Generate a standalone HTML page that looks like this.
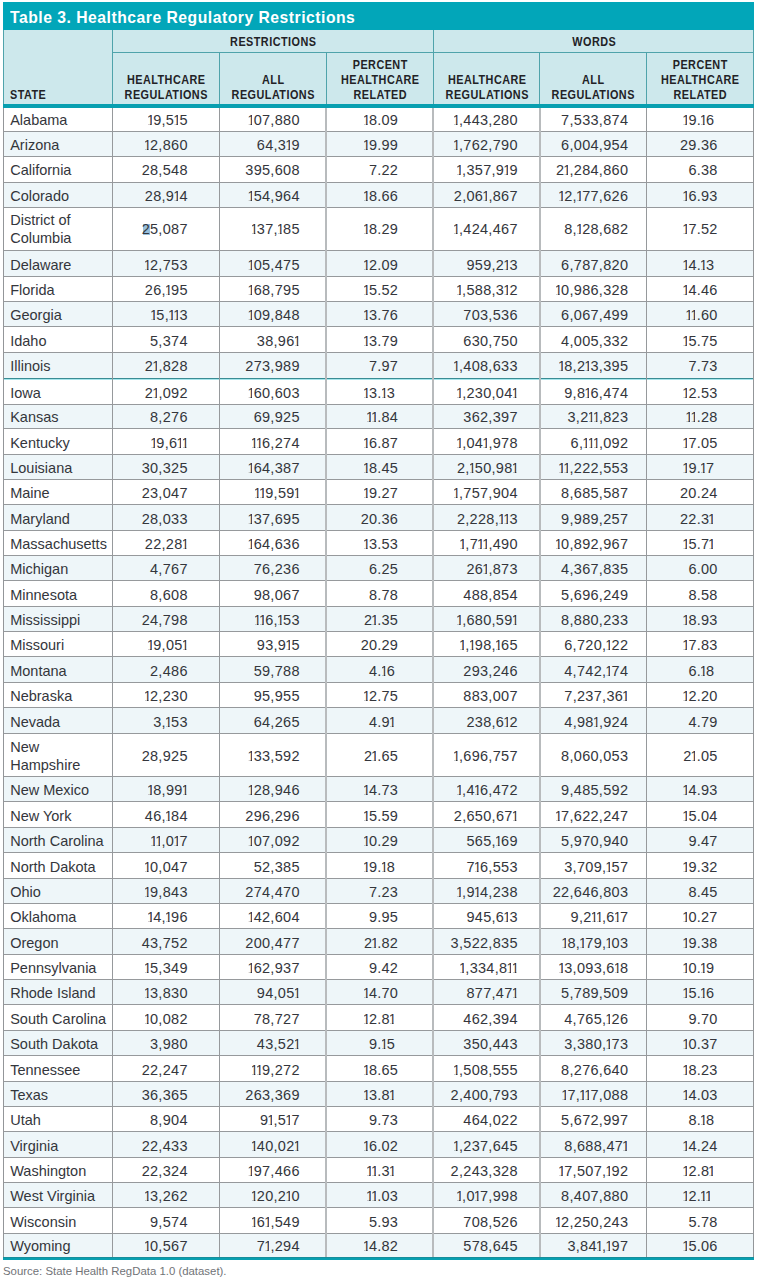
<!DOCTYPE html><html><head><meta charset="utf-8"><style>
*{margin:0;padding:0;box-sizing:border-box}
body{width:765px;height:1284px;position:relative;overflow:hidden;background:#fff;font-family:"Liberation Sans",sans-serif;color:#34363c}
div{position:absolute}
.h{height:1px;background:#96999c;left:3px;width:751px}
.v{width:1px;background:#96999c}
.t{font-size:14.5px;line-height:20px;height:20px;white-space:nowrap}
.n{text-align:right}
i{font-style:normal;display:inline-block;vertical-align:top;overflow:hidden;width:4.0px;text-indent:-1.3px;margin-right:1.2px;clip-path:polygon(0 0,4px 0,4px 14.2px,3.65px 14.2px,3.65px 20px,2.2px 20px,2.2px 14.2px,0 14.2px)}
.hd{font-weight:bold;font-size:12.6px;line-height:15px;white-space:nowrap;text-align:center;color:#222226;transform:scaleX(0.86);transform-origin:center;letter-spacing:0.55px;text-indent:0.55px}
</style></head><body>

<div style="left:3px;top:2px;width:751px;height:28px;background:#02a6b9"></div>
<div style="left:9.8px;top:8px;font-weight:bold;font-size:16.7px;line-height:20px;color:#fff;white-space:nowrap;transform:scaleX(0.94);transform-origin:left;letter-spacing:0.55px">Table 3. Healthcare Regulatory Restrictions</div>
<div style="left:3px;top:30px;width:751px;height:74px;background:#cde8ec"></div>
<div style="left:3px;top:30px;width:1px;height:74px;background:#4fa3ab"></div>
<div style="left:753px;top:30px;width:1px;height:74px;background:#4fa3ab"></div>
<div style="left:112px;top:30px;width:1px;height:74px;background:#4fa3ab"></div>
<div style="left:433px;top:30px;width:1px;height:74px;background:#4fa3ab"></div>
<div style="left:219px;top:52px;width:1px;height:52px;background:#4fa3ab"></div>
<div style="left:326px;top:52px;width:1px;height:52px;background:#4fa3ab"></div>
<div style="left:539px;top:52px;width:1px;height:52px;background:#4fa3ab"></div>
<div style="left:646px;top:52px;width:1px;height:52px;background:#4fa3ab"></div>
<div style="left:112px;top:52px;width:641px;height:1px;background:#4fa3ab"></div>
<div style="left:3px;top:104px;width:751px;height:4px;background:#089fb0"></div>
<div style="left:10.2px;top:87.6px;font-weight:bold;font-size:12.6px;line-height:15px;color:#222226;transform:scaleX(0.86);transform-origin:left;letter-spacing:0.55px">STATE</div>
<div class="hd" style="left:172.5px;width:200px;top:35.2px">RESTRICTIONS</div>
<div class="hd" style="left:493.5px;width:200px;top:35.2px">WORDS</div>
<div class="hd" style="left:66.0px;width:200px;top:72.8px">HEALTHCARE</div>
<div class="hd" style="left:66.0px;width:200px;top:87.6px">REGULATIONS</div>
<div class="hd" style="left:173.0px;width:200px;top:72.8px">ALL</div>
<div class="hd" style="left:173.0px;width:200px;top:87.6px">REGULATIONS</div>
<div class="hd" style="left:280.0px;width:200px;top:58px">PERCENT</div>
<div class="hd" style="left:280.0px;width:200px;top:72.8px">HEALTHCARE</div>
<div class="hd" style="left:280.0px;width:200px;top:87.6px">RELATED</div>
<div class="hd" style="left:386.5px;width:200px;top:72.8px">HEALTHCARE</div>
<div class="hd" style="left:386.5px;width:200px;top:87.6px">REGULATIONS</div>
<div class="hd" style="left:493.0px;width:200px;top:72.8px">ALL</div>
<div class="hd" style="left:493.0px;width:200px;top:87.6px">REGULATIONS</div>
<div class="hd" style="left:600.0px;width:200px;top:58px">PERCENT</div>
<div class="hd" style="left:600.0px;width:200px;top:72.8px">HEALTHCARE</div>
<div class="hd" style="left:600.0px;width:200px;top:87.6px">RELATED</div>
<div class="h" style="top:131px;background:#96999c"></div>
<div class="t" style="left:10.2px;top:110.0px">Alabama</div>
<div class="t n" style="left:67.8px;width:120px;top:110.0px;letter-spacing:0.3px"><i>1</i>9,5<i>1</i>5</div>
<div class="t n" style="left:179.8px;width:120px;top:110.0px;letter-spacing:0.3px"><i>1</i>07,880</div>
<div class="t n" style="left:321.58px;width:60px;top:110.0px;letter-spacing:0.2px"><i>1</i>8.</div>
<div class="t" style="left:381.58px;top:110.0px;letter-spacing:0.2px">09</div>
<div class="t n" style="left:397.8px;width:120px;top:110.0px;letter-spacing:0.3px"><i>1</i>,443,280</div>
<div class="t n" style="left:508.3px;width:120px;top:110.0px;letter-spacing:0.3px">7,533,874</div>
<div class="t n" style="left:640.88px;width:60px;top:110.0px;letter-spacing:0.2px"><i>1</i>9.</div>
<div class="t" style="left:700.88px;top:110.0px;letter-spacing:0.2px"><i>1</i>6</div>
<div style="left:4px;top:132px;width:749px;height:24px;background:#eef6f9"></div>
<div class="h" style="top:156px;background:#96999c"></div>
<div class="t" style="left:10.2px;top:135.0px">Arizona</div>
<div class="t n" style="left:67.8px;width:120px;top:135.0px;letter-spacing:0.3px"><i>1</i>2,860</div>
<div class="t n" style="left:179.8px;width:120px;top:135.0px;letter-spacing:0.3px">64,3<i>1</i>9</div>
<div class="t n" style="left:321.58px;width:60px;top:135.0px;letter-spacing:0.2px"><i>1</i>9.</div>
<div class="t" style="left:381.58px;top:135.0px;letter-spacing:0.2px">99</div>
<div class="t n" style="left:397.8px;width:120px;top:135.0px;letter-spacing:0.3px"><i>1</i>,762,790</div>
<div class="t n" style="left:508.3px;width:120px;top:135.0px;letter-spacing:0.3px">6,004,954</div>
<div class="t n" style="left:640.88px;width:60px;top:135.0px;letter-spacing:0.2px">29.</div>
<div class="t" style="left:700.88px;top:135.0px;letter-spacing:0.2px">36</div>
<div class="h" style="top:182px;background:#96999c"></div>
<div class="t" style="left:10.2px;top:160.0px">California</div>
<div class="t n" style="left:67.8px;width:120px;top:160.0px;letter-spacing:0.3px">28,548</div>
<div class="t n" style="left:179.8px;width:120px;top:160.0px;letter-spacing:0.3px">395,608</div>
<div class="t n" style="left:321.58px;width:60px;top:160.0px;letter-spacing:0.2px">7.</div>
<div class="t" style="left:381.58px;top:160.0px;letter-spacing:0.2px">22</div>
<div class="t n" style="left:397.8px;width:120px;top:160.0px;letter-spacing:0.3px"><i>1</i>,357,9<i>1</i>9</div>
<div class="t n" style="left:508.3px;width:120px;top:160.0px;letter-spacing:0.3px">2<i>1</i>,284,860</div>
<div class="t n" style="left:640.88px;width:60px;top:160.0px;letter-spacing:0.2px">6.</div>
<div class="t" style="left:700.88px;top:160.0px;letter-spacing:0.2px">38</div>
<div style="left:4px;top:183px;width:749px;height:24px;background:#eef6f9"></div>
<div class="h" style="top:207px;background:#96999c"></div>
<div class="t" style="left:10.2px;top:186.0px">Colorado</div>
<div class="t n" style="left:67.8px;width:120px;top:186.0px;letter-spacing:0.3px">28,9<i>1</i>4</div>
<div class="t n" style="left:179.8px;width:120px;top:186.0px;letter-spacing:0.3px"><i>1</i>54,964</div>
<div class="t n" style="left:321.58px;width:60px;top:186.0px;letter-spacing:0.2px"><i>1</i>8.</div>
<div class="t" style="left:381.58px;top:186.0px;letter-spacing:0.2px">66</div>
<div class="t n" style="left:397.8px;width:120px;top:186.0px;letter-spacing:0.3px">2,06<i>1</i>,867</div>
<div class="t n" style="left:508.3px;width:120px;top:186.0px;letter-spacing:0.3px"><i>1</i>2,<i>1</i>77,626</div>
<div class="t n" style="left:640.88px;width:60px;top:186.0px;letter-spacing:0.2px"><i>1</i>6.</div>
<div class="t" style="left:700.88px;top:186.0px;letter-spacing:0.2px">93</div>
<div class="h" style="top:250px;background:#96999c"></div>
<div class="t" style="left:10.2px;top:210.2px">District of</div>
<div class="t" style="left:10.2px;top:228.0px">Columbia</div>
<div style="left:143px;top:224px;width:7px;height:11px;background:#98bfda"></div>
<div class="t n" style="left:67.8px;width:120px;top:219.1px;letter-spacing:0.3px">25,087</div>
<div class="t n" style="left:179.8px;width:120px;top:219.1px;letter-spacing:0.3px"><i>1</i>37,<i>1</i>85</div>
<div class="t n" style="left:321.58px;width:60px;top:219.1px;letter-spacing:0.2px"><i>1</i>8.</div>
<div class="t" style="left:381.58px;top:219.1px;letter-spacing:0.2px">29</div>
<div class="t n" style="left:397.8px;width:120px;top:219.1px;letter-spacing:0.3px"><i>1</i>,424,467</div>
<div class="t n" style="left:508.3px;width:120px;top:219.1px;letter-spacing:0.3px">8,<i>1</i>28,682</div>
<div class="t n" style="left:640.88px;width:60px;top:219.1px;letter-spacing:0.2px"><i>1</i>7.</div>
<div class="t" style="left:700.88px;top:219.1px;letter-spacing:0.2px">52</div>
<div style="left:4px;top:251px;width:749px;height:25px;background:#eef6f9"></div>
<div class="h" style="top:276px;background:#96999c"></div>
<div class="t" style="left:10.2px;top:255.0px">Delaware</div>
<div class="t n" style="left:67.8px;width:120px;top:255.0px;letter-spacing:0.3px"><i>1</i>2,753</div>
<div class="t n" style="left:179.8px;width:120px;top:255.0px;letter-spacing:0.3px"><i>1</i>05,475</div>
<div class="t n" style="left:321.58px;width:60px;top:255.0px;letter-spacing:0.2px"><i>1</i>2.</div>
<div class="t" style="left:381.58px;top:255.0px;letter-spacing:0.2px">09</div>
<div class="t n" style="left:397.8px;width:120px;top:255.0px;letter-spacing:0.3px">959,2<i>1</i>3</div>
<div class="t n" style="left:508.3px;width:120px;top:255.0px;letter-spacing:0.3px">6,787,820</div>
<div class="t n" style="left:640.88px;width:60px;top:255.0px;letter-spacing:0.2px"><i>1</i>4.</div>
<div class="t" style="left:700.88px;top:255.0px;letter-spacing:0.2px"><i>1</i>3</div>
<div class="h" style="top:301px;background:#96999c"></div>
<div class="t" style="left:10.2px;top:280.0px">Florida</div>
<div class="t n" style="left:67.8px;width:120px;top:280.0px;letter-spacing:0.3px">26,<i>1</i>95</div>
<div class="t n" style="left:179.8px;width:120px;top:280.0px;letter-spacing:0.3px"><i>1</i>68,795</div>
<div class="t n" style="left:321.58px;width:60px;top:280.0px;letter-spacing:0.2px"><i>1</i>5.</div>
<div class="t" style="left:381.58px;top:280.0px;letter-spacing:0.2px">52</div>
<div class="t n" style="left:397.8px;width:120px;top:280.0px;letter-spacing:0.3px"><i>1</i>,588,3<i>1</i>2</div>
<div class="t n" style="left:508.3px;width:120px;top:280.0px;letter-spacing:0.3px"><i>1</i>0,986,328</div>
<div class="t n" style="left:640.88px;width:60px;top:280.0px;letter-spacing:0.2px"><i>1</i>4.</div>
<div class="t" style="left:700.88px;top:280.0px;letter-spacing:0.2px">46</div>
<div style="left:4px;top:302px;width:749px;height:24px;background:#eef6f9"></div>
<div class="h" style="top:326px;background:#96999c"></div>
<div class="t" style="left:10.2px;top:305.0px">Georgia</div>
<div class="t n" style="left:67.8px;width:120px;top:305.0px;letter-spacing:0.3px"><i>1</i>5,<i>1</i><i>1</i>3</div>
<div class="t n" style="left:179.8px;width:120px;top:305.0px;letter-spacing:0.3px"><i>1</i>09,848</div>
<div class="t n" style="left:321.58px;width:60px;top:305.0px;letter-spacing:0.2px"><i>1</i>3.</div>
<div class="t" style="left:381.58px;top:305.0px;letter-spacing:0.2px">76</div>
<div class="t n" style="left:397.8px;width:120px;top:305.0px;letter-spacing:0.3px">703,536</div>
<div class="t n" style="left:508.3px;width:120px;top:305.0px;letter-spacing:0.3px">6,067,499</div>
<div class="t n" style="left:640.88px;width:60px;top:305.0px;letter-spacing:0.2px"><i>1</i><i>1</i>.</div>
<div class="t" style="left:700.88px;top:305.0px;letter-spacing:0.2px">60</div>
<div class="h" style="top:352px;background:#96999c"></div>
<div class="t" style="left:10.2px;top:331.0px">Idaho</div>
<div class="t n" style="left:67.8px;width:120px;top:331.0px;letter-spacing:0.3px">5,374</div>
<div class="t n" style="left:179.8px;width:120px;top:331.0px;letter-spacing:0.3px">38,96<i>1</i></div>
<div class="t n" style="left:321.58px;width:60px;top:331.0px;letter-spacing:0.2px"><i>1</i>3.</div>
<div class="t" style="left:381.58px;top:331.0px;letter-spacing:0.2px">79</div>
<div class="t n" style="left:397.8px;width:120px;top:331.0px;letter-spacing:0.3px">630,750</div>
<div class="t n" style="left:508.3px;width:120px;top:331.0px;letter-spacing:0.3px">4,005,332</div>
<div class="t n" style="left:640.88px;width:60px;top:331.0px;letter-spacing:0.2px"><i>1</i>5.</div>
<div class="t" style="left:700.88px;top:331.0px;letter-spacing:0.2px">75</div>
<div style="left:4px;top:353px;width:749px;height:25px;background:#eef6f9"></div>
<div class="h" style="top:378px;background:#3a8c94"></div>
<div class="h" style="top:379px;background:#a6e6ec"></div>
<div class="t" style="left:10.2px;top:356.0px">Illinois</div>
<div class="t n" style="left:67.8px;width:120px;top:356.0px;letter-spacing:0.3px">2<i>1</i>,828</div>
<div class="t n" style="left:179.8px;width:120px;top:356.0px;letter-spacing:0.3px">273,989</div>
<div class="t n" style="left:321.58px;width:60px;top:356.0px;letter-spacing:0.2px">7.</div>
<div class="t" style="left:381.58px;top:356.0px;letter-spacing:0.2px">97</div>
<div class="t n" style="left:397.8px;width:120px;top:356.0px;letter-spacing:0.3px"><i>1</i>,408,633</div>
<div class="t n" style="left:508.3px;width:120px;top:356.0px;letter-spacing:0.3px"><i>1</i>8,2<i>1</i>3,395</div>
<div class="t n" style="left:640.88px;width:60px;top:356.0px;letter-spacing:0.2px">7.</div>
<div class="t" style="left:700.88px;top:356.0px;letter-spacing:0.2px">73</div>
<div class="h" style="top:404px;background:#96999c"></div>
<div class="t" style="left:10.2px;top:383.0px">Iowa</div>
<div class="t n" style="left:67.8px;width:120px;top:383.0px;letter-spacing:0.3px">2<i>1</i>,092</div>
<div class="t n" style="left:179.8px;width:120px;top:383.0px;letter-spacing:0.3px"><i>1</i>60,603</div>
<div class="t n" style="left:321.58px;width:60px;top:383.0px;letter-spacing:0.2px"><i>1</i>3.</div>
<div class="t" style="left:381.58px;top:383.0px;letter-spacing:0.2px"><i>1</i>3</div>
<div class="t n" style="left:397.8px;width:120px;top:383.0px;letter-spacing:0.3px"><i>1</i>,230,04<i>1</i></div>
<div class="t n" style="left:508.3px;width:120px;top:383.0px;letter-spacing:0.3px">9,8<i>1</i>6,474</div>
<div class="t n" style="left:640.88px;width:60px;top:383.0px;letter-spacing:0.2px"><i>1</i>2.</div>
<div class="t" style="left:700.88px;top:383.0px;letter-spacing:0.2px">53</div>
<div style="left:4px;top:405px;width:749px;height:23px;background:#eef6f9"></div>
<div class="h" style="top:428px;background:#96999c"></div>
<div class="t" style="left:10.2px;top:407.0px">Kansas</div>
<div class="t n" style="left:67.8px;width:120px;top:407.0px;letter-spacing:0.3px">8,276</div>
<div class="t n" style="left:179.8px;width:120px;top:407.0px;letter-spacing:0.3px">69,925</div>
<div class="t n" style="left:321.58px;width:60px;top:407.0px;letter-spacing:0.2px"><i>1</i><i>1</i>.</div>
<div class="t" style="left:381.58px;top:407.0px;letter-spacing:0.2px">84</div>
<div class="t n" style="left:397.8px;width:120px;top:407.0px;letter-spacing:0.3px">362,397</div>
<div class="t n" style="left:508.3px;width:120px;top:407.0px;letter-spacing:0.3px">3,2<i>1</i><i>1</i>,823</div>
<div class="t n" style="left:640.88px;width:60px;top:407.0px;letter-spacing:0.2px"><i>1</i><i>1</i>.</div>
<div class="t" style="left:700.88px;top:407.0px;letter-spacing:0.2px">28</div>
<div class="h" style="top:454px;background:#96999c"></div>
<div class="t" style="left:10.2px;top:433.0px">Kentucky</div>
<div class="t n" style="left:67.8px;width:120px;top:433.0px;letter-spacing:0.3px"><i>1</i>9,6<i>1</i><i>1</i></div>
<div class="t n" style="left:179.8px;width:120px;top:433.0px;letter-spacing:0.3px"><i>1</i><i>1</i>6,274</div>
<div class="t n" style="left:321.58px;width:60px;top:433.0px;letter-spacing:0.2px"><i>1</i>6.</div>
<div class="t" style="left:381.58px;top:433.0px;letter-spacing:0.2px">87</div>
<div class="t n" style="left:397.8px;width:120px;top:433.0px;letter-spacing:0.3px"><i>1</i>,04<i>1</i>,978</div>
<div class="t n" style="left:508.3px;width:120px;top:433.0px;letter-spacing:0.3px">6,<i>1</i><i>1</i><i>1</i>,092</div>
<div class="t n" style="left:640.88px;width:60px;top:433.0px;letter-spacing:0.2px"><i>1</i>7.</div>
<div class="t" style="left:700.88px;top:433.0px;letter-spacing:0.2px">05</div>
<div style="left:4px;top:455px;width:749px;height:24px;background:#eef6f9"></div>
<div class="h" style="top:479px;background:#96999c"></div>
<div class="t" style="left:10.2px;top:458.0px">Louisiana</div>
<div class="t n" style="left:67.8px;width:120px;top:458.0px;letter-spacing:0.3px">30,325</div>
<div class="t n" style="left:179.8px;width:120px;top:458.0px;letter-spacing:0.3px"><i>1</i>64,387</div>
<div class="t n" style="left:321.58px;width:60px;top:458.0px;letter-spacing:0.2px"><i>1</i>8.</div>
<div class="t" style="left:381.58px;top:458.0px;letter-spacing:0.2px">45</div>
<div class="t n" style="left:397.8px;width:120px;top:458.0px;letter-spacing:0.3px">2,<i>1</i>50,98<i>1</i></div>
<div class="t n" style="left:508.3px;width:120px;top:458.0px;letter-spacing:0.3px"><i>1</i><i>1</i>,222,553</div>
<div class="t n" style="left:640.88px;width:60px;top:458.0px;letter-spacing:0.2px"><i>1</i>9.</div>
<div class="t" style="left:700.88px;top:458.0px;letter-spacing:0.2px"><i>1</i>7</div>
<div class="h" style="top:504px;background:#96999c"></div>
<div class="t" style="left:10.2px;top:483.0px">Maine</div>
<div class="t n" style="left:67.8px;width:120px;top:483.0px;letter-spacing:0.3px">23,047</div>
<div class="t n" style="left:179.8px;width:120px;top:483.0px;letter-spacing:0.3px"><i>1</i><i>1</i>9,59<i>1</i></div>
<div class="t n" style="left:321.58px;width:60px;top:483.0px;letter-spacing:0.2px"><i>1</i>9.</div>
<div class="t" style="left:381.58px;top:483.0px;letter-spacing:0.2px">27</div>
<div class="t n" style="left:397.8px;width:120px;top:483.0px;letter-spacing:0.3px"><i>1</i>,757,904</div>
<div class="t n" style="left:508.3px;width:120px;top:483.0px;letter-spacing:0.3px">8,685,587</div>
<div class="t n" style="left:640.88px;width:60px;top:483.0px;letter-spacing:0.2px">20.</div>
<div class="t" style="left:700.88px;top:483.0px;letter-spacing:0.2px">24</div>
<div style="left:4px;top:505px;width:749px;height:25px;background:#eef6f9"></div>
<div class="h" style="top:530px;background:#96999c"></div>
<div class="t" style="left:10.2px;top:509.0px">Maryland</div>
<div class="t n" style="left:67.8px;width:120px;top:509.0px;letter-spacing:0.3px">28,033</div>
<div class="t n" style="left:179.8px;width:120px;top:509.0px;letter-spacing:0.3px"><i>1</i>37,695</div>
<div class="t n" style="left:321.58px;width:60px;top:509.0px;letter-spacing:0.2px">20.</div>
<div class="t" style="left:381.58px;top:509.0px;letter-spacing:0.2px">36</div>
<div class="t n" style="left:397.8px;width:120px;top:509.0px;letter-spacing:0.3px">2,228,<i>1</i><i>1</i>3</div>
<div class="t n" style="left:508.3px;width:120px;top:509.0px;letter-spacing:0.3px">9,989,257</div>
<div class="t n" style="left:640.88px;width:60px;top:509.0px;letter-spacing:0.2px">22.</div>
<div class="t" style="left:700.88px;top:509.0px;letter-spacing:0.2px">3<i>1</i></div>
<div class="h" style="top:555px;background:#96999c"></div>
<div class="t" style="left:10.2px;top:534.0px">Massachusetts</div>
<div class="t n" style="left:67.8px;width:120px;top:534.0px;letter-spacing:0.3px">22,28<i>1</i></div>
<div class="t n" style="left:179.8px;width:120px;top:534.0px;letter-spacing:0.3px"><i>1</i>64,636</div>
<div class="t n" style="left:321.58px;width:60px;top:534.0px;letter-spacing:0.2px"><i>1</i>3.</div>
<div class="t" style="left:381.58px;top:534.0px;letter-spacing:0.2px">53</div>
<div class="t n" style="left:397.8px;width:120px;top:534.0px;letter-spacing:0.3px"><i>1</i>,7<i>1</i><i>1</i>,490</div>
<div class="t n" style="left:508.3px;width:120px;top:534.0px;letter-spacing:0.3px"><i>1</i>0,892,967</div>
<div class="t n" style="left:640.88px;width:60px;top:534.0px;letter-spacing:0.2px"><i>1</i>5.</div>
<div class="t" style="left:700.88px;top:534.0px;letter-spacing:0.2px">7<i>1</i></div>
<div style="left:4px;top:556px;width:749px;height:24px;background:#eef6f9"></div>
<div class="h" style="top:580px;background:#96999c"></div>
<div class="t" style="left:10.2px;top:559.0px">Michigan</div>
<div class="t n" style="left:67.8px;width:120px;top:559.0px;letter-spacing:0.3px">4,767</div>
<div class="t n" style="left:179.8px;width:120px;top:559.0px;letter-spacing:0.3px">76,236</div>
<div class="t n" style="left:321.58px;width:60px;top:559.0px;letter-spacing:0.2px">6.</div>
<div class="t" style="left:381.58px;top:559.0px;letter-spacing:0.2px">25</div>
<div class="t n" style="left:397.8px;width:120px;top:559.0px;letter-spacing:0.3px">26<i>1</i>,873</div>
<div class="t n" style="left:508.3px;width:120px;top:559.0px;letter-spacing:0.3px">4,367,835</div>
<div class="t n" style="left:640.88px;width:60px;top:559.0px;letter-spacing:0.2px">6.</div>
<div class="t" style="left:700.88px;top:559.0px;letter-spacing:0.2px">00</div>
<div class="h" style="top:606px;background:#96999c"></div>
<div class="t" style="left:10.2px;top:585.0px">Minnesota</div>
<div class="t n" style="left:67.8px;width:120px;top:585.0px;letter-spacing:0.3px">8,608</div>
<div class="t n" style="left:179.8px;width:120px;top:585.0px;letter-spacing:0.3px">98,067</div>
<div class="t n" style="left:321.58px;width:60px;top:585.0px;letter-spacing:0.2px">8.</div>
<div class="t" style="left:381.58px;top:585.0px;letter-spacing:0.2px">78</div>
<div class="t n" style="left:397.8px;width:120px;top:585.0px;letter-spacing:0.3px">488,854</div>
<div class="t n" style="left:508.3px;width:120px;top:585.0px;letter-spacing:0.3px">5,696,249</div>
<div class="t n" style="left:640.88px;width:60px;top:585.0px;letter-spacing:0.2px">8.</div>
<div class="t" style="left:700.88px;top:585.0px;letter-spacing:0.2px">58</div>
<div style="left:4px;top:607px;width:749px;height:24px;background:#eef6f9"></div>
<div class="h" style="top:631px;background:#96999c"></div>
<div class="t" style="left:10.2px;top:610.0px">Mississippi</div>
<div class="t n" style="left:67.8px;width:120px;top:610.0px;letter-spacing:0.3px">24,798</div>
<div class="t n" style="left:179.8px;width:120px;top:610.0px;letter-spacing:0.3px"><i>1</i><i>1</i>6,<i>1</i>53</div>
<div class="t n" style="left:321.58px;width:60px;top:610.0px;letter-spacing:0.2px">2<i>1</i>.</div>
<div class="t" style="left:381.58px;top:610.0px;letter-spacing:0.2px">35</div>
<div class="t n" style="left:397.8px;width:120px;top:610.0px;letter-spacing:0.3px"><i>1</i>,680,59<i>1</i></div>
<div class="t n" style="left:508.3px;width:120px;top:610.0px;letter-spacing:0.3px">8,880,233</div>
<div class="t n" style="left:640.88px;width:60px;top:610.0px;letter-spacing:0.2px"><i>1</i>8.</div>
<div class="t" style="left:700.88px;top:610.0px;letter-spacing:0.2px">93</div>
<div class="h" style="top:656px;background:#96999c"></div>
<div class="t" style="left:10.2px;top:635.0px">Missouri</div>
<div class="t n" style="left:67.8px;width:120px;top:635.0px;letter-spacing:0.3px"><i>1</i>9,05<i>1</i></div>
<div class="t n" style="left:179.8px;width:120px;top:635.0px;letter-spacing:0.3px">93,9<i>1</i>5</div>
<div class="t n" style="left:321.58px;width:60px;top:635.0px;letter-spacing:0.2px">20.</div>
<div class="t" style="left:381.58px;top:635.0px;letter-spacing:0.2px">29</div>
<div class="t n" style="left:397.8px;width:120px;top:635.0px;letter-spacing:0.3px"><i>1</i>,<i>1</i>98,<i>1</i>65</div>
<div class="t n" style="left:508.3px;width:120px;top:635.0px;letter-spacing:0.3px">6,720,<i>1</i>22</div>
<div class="t n" style="left:640.88px;width:60px;top:635.0px;letter-spacing:0.2px"><i>1</i>7.</div>
<div class="t" style="left:700.88px;top:635.0px;letter-spacing:0.2px">83</div>
<div style="left:4px;top:657px;width:749px;height:25px;background:#eef6f9"></div>
<div class="h" style="top:682px;background:#96999c"></div>
<div class="t" style="left:10.2px;top:661.0px">Montana</div>
<div class="t n" style="left:67.8px;width:120px;top:661.0px;letter-spacing:0.3px">2,486</div>
<div class="t n" style="left:179.8px;width:120px;top:661.0px;letter-spacing:0.3px">59,788</div>
<div class="t n" style="left:321.58px;width:60px;top:661.0px;letter-spacing:0.2px">4.</div>
<div class="t" style="left:381.58px;top:661.0px;letter-spacing:0.2px"><i>1</i>6</div>
<div class="t n" style="left:397.8px;width:120px;top:661.0px;letter-spacing:0.3px">293,246</div>
<div class="t n" style="left:508.3px;width:120px;top:661.0px;letter-spacing:0.3px">4,742,<i>1</i>74</div>
<div class="t n" style="left:640.88px;width:60px;top:661.0px;letter-spacing:0.2px">6.</div>
<div class="t" style="left:700.88px;top:661.0px;letter-spacing:0.2px"><i>1</i>8</div>
<div class="h" style="top:707px;background:#96999c"></div>
<div class="t" style="left:10.2px;top:686.0px">Nebraska</div>
<div class="t n" style="left:67.8px;width:120px;top:686.0px;letter-spacing:0.3px"><i>1</i>2,230</div>
<div class="t n" style="left:179.8px;width:120px;top:686.0px;letter-spacing:0.3px">95,955</div>
<div class="t n" style="left:321.58px;width:60px;top:686.0px;letter-spacing:0.2px"><i>1</i>2.</div>
<div class="t" style="left:381.58px;top:686.0px;letter-spacing:0.2px">75</div>
<div class="t n" style="left:397.8px;width:120px;top:686.0px;letter-spacing:0.3px">883,007</div>
<div class="t n" style="left:508.3px;width:120px;top:686.0px;letter-spacing:0.3px">7,237,36<i>1</i></div>
<div class="t n" style="left:640.88px;width:60px;top:686.0px;letter-spacing:0.2px"><i>1</i>2.</div>
<div class="t" style="left:700.88px;top:686.0px;letter-spacing:0.2px">20</div>
<div style="left:4px;top:708px;width:749px;height:25px;background:#eef6f9"></div>
<div class="h" style="top:733px;background:#96999c"></div>
<div class="t" style="left:10.2px;top:712.0px">Nevada</div>
<div class="t n" style="left:67.8px;width:120px;top:712.0px;letter-spacing:0.3px">3,<i>1</i>53</div>
<div class="t n" style="left:179.8px;width:120px;top:712.0px;letter-spacing:0.3px">64,265</div>
<div class="t n" style="left:321.58px;width:60px;top:712.0px;letter-spacing:0.2px">4.</div>
<div class="t" style="left:381.58px;top:712.0px;letter-spacing:0.2px">9<i>1</i></div>
<div class="t n" style="left:397.8px;width:120px;top:712.0px;letter-spacing:0.3px">238,6<i>1</i>2</div>
<div class="t n" style="left:508.3px;width:120px;top:712.0px;letter-spacing:0.3px">4,98<i>1</i>,924</div>
<div class="t n" style="left:640.88px;width:60px;top:712.0px;letter-spacing:0.2px">4.</div>
<div class="t" style="left:700.88px;top:712.0px;letter-spacing:0.2px">79</div>
<div class="h" style="top:776px;background:#96999c"></div>
<div class="t" style="left:10.2px;top:737.2px">New</div>
<div class="t" style="left:10.2px;top:755.0px">Hampshire</div>
<div class="t n" style="left:67.8px;width:120px;top:746.1px;letter-spacing:0.3px">28,925</div>
<div class="t n" style="left:179.8px;width:120px;top:746.1px;letter-spacing:0.3px"><i>1</i>33,592</div>
<div class="t n" style="left:321.58px;width:60px;top:746.1px;letter-spacing:0.2px">2<i>1</i>.</div>
<div class="t" style="left:381.58px;top:746.1px;letter-spacing:0.2px">65</div>
<div class="t n" style="left:397.8px;width:120px;top:746.1px;letter-spacing:0.3px"><i>1</i>,696,757</div>
<div class="t n" style="left:508.3px;width:120px;top:746.1px;letter-spacing:0.3px">8,060,053</div>
<div class="t n" style="left:640.88px;width:60px;top:746.1px;letter-spacing:0.2px">2<i>1</i>.</div>
<div class="t" style="left:700.88px;top:746.1px;letter-spacing:0.2px">05</div>
<div style="left:4px;top:777px;width:749px;height:24px;background:#eef6f9"></div>
<div class="h" style="top:801px;background:#96999c"></div>
<div class="t" style="left:10.2px;top:780.0px">New Mexico</div>
<div class="t n" style="left:67.8px;width:120px;top:780.0px;letter-spacing:0.3px"><i>1</i>8,99<i>1</i></div>
<div class="t n" style="left:179.8px;width:120px;top:780.0px;letter-spacing:0.3px"><i>1</i>28,946</div>
<div class="t n" style="left:321.58px;width:60px;top:780.0px;letter-spacing:0.2px"><i>1</i>4.</div>
<div class="t" style="left:381.58px;top:780.0px;letter-spacing:0.2px">73</div>
<div class="t n" style="left:397.8px;width:120px;top:780.0px;letter-spacing:0.3px"><i>1</i>,4<i>1</i>6,472</div>
<div class="t n" style="left:508.3px;width:120px;top:780.0px;letter-spacing:0.3px">9,485,592</div>
<div class="t n" style="left:640.88px;width:60px;top:780.0px;letter-spacing:0.2px"><i>1</i>4.</div>
<div class="t" style="left:700.88px;top:780.0px;letter-spacing:0.2px">93</div>
<div class="h" style="top:827px;background:#96999c"></div>
<div class="t" style="left:10.2px;top:806.0px">New York</div>
<div class="t n" style="left:67.8px;width:120px;top:806.0px;letter-spacing:0.3px">46,<i>1</i>84</div>
<div class="t n" style="left:179.8px;width:120px;top:806.0px;letter-spacing:0.3px">296,296</div>
<div class="t n" style="left:321.58px;width:60px;top:806.0px;letter-spacing:0.2px"><i>1</i>5.</div>
<div class="t" style="left:381.58px;top:806.0px;letter-spacing:0.2px">59</div>
<div class="t n" style="left:397.8px;width:120px;top:806.0px;letter-spacing:0.3px">2,650,67<i>1</i></div>
<div class="t n" style="left:508.3px;width:120px;top:806.0px;letter-spacing:0.3px"><i>1</i>7,622,247</div>
<div class="t n" style="left:640.88px;width:60px;top:806.0px;letter-spacing:0.2px"><i>1</i>5.</div>
<div class="t" style="left:700.88px;top:806.0px;letter-spacing:0.2px">04</div>
<div style="left:4px;top:828px;width:749px;height:24px;background:#eef6f9"></div>
<div class="h" style="top:852px;background:#96999c"></div>
<div class="t" style="left:10.2px;top:831.0px">North Carolina</div>
<div class="t n" style="left:67.8px;width:120px;top:831.0px;letter-spacing:0.3px"><i>1</i><i>1</i>,0<i>1</i>7</div>
<div class="t n" style="left:179.8px;width:120px;top:831.0px;letter-spacing:0.3px"><i>1</i>07,092</div>
<div class="t n" style="left:321.58px;width:60px;top:831.0px;letter-spacing:0.2px"><i>1</i>0.</div>
<div class="t" style="left:381.58px;top:831.0px;letter-spacing:0.2px">29</div>
<div class="t n" style="left:397.8px;width:120px;top:831.0px;letter-spacing:0.3px">565,<i>1</i>69</div>
<div class="t n" style="left:508.3px;width:120px;top:831.0px;letter-spacing:0.3px">5,970,940</div>
<div class="t n" style="left:640.88px;width:60px;top:831.0px;letter-spacing:0.2px">9.</div>
<div class="t" style="left:700.88px;top:831.0px;letter-spacing:0.2px">47</div>
<div class="h" style="top:878px;background:#96999c"></div>
<div class="t" style="left:10.2px;top:857.0px">North Dakota</div>
<div class="t n" style="left:67.8px;width:120px;top:857.0px;letter-spacing:0.3px"><i>1</i>0,047</div>
<div class="t n" style="left:179.8px;width:120px;top:857.0px;letter-spacing:0.3px">52,385</div>
<div class="t n" style="left:321.58px;width:60px;top:857.0px;letter-spacing:0.2px"><i>1</i>9.</div>
<div class="t" style="left:381.58px;top:857.0px;letter-spacing:0.2px"><i>1</i>8</div>
<div class="t n" style="left:397.8px;width:120px;top:857.0px;letter-spacing:0.3px">7<i>1</i>6,553</div>
<div class="t n" style="left:508.3px;width:120px;top:857.0px;letter-spacing:0.3px">3,709,<i>1</i>57</div>
<div class="t n" style="left:640.88px;width:60px;top:857.0px;letter-spacing:0.2px"><i>1</i>9.</div>
<div class="t" style="left:700.88px;top:857.0px;letter-spacing:0.2px">32</div>
<div style="left:4px;top:879px;width:749px;height:24px;background:#eef6f9"></div>
<div class="h" style="top:903px;background:#96999c"></div>
<div class="t" style="left:10.2px;top:882.0px">Ohio</div>
<div class="t n" style="left:67.8px;width:120px;top:882.0px;letter-spacing:0.3px"><i>1</i>9,843</div>
<div class="t n" style="left:179.8px;width:120px;top:882.0px;letter-spacing:0.3px">274,470</div>
<div class="t n" style="left:321.58px;width:60px;top:882.0px;letter-spacing:0.2px">7.</div>
<div class="t" style="left:381.58px;top:882.0px;letter-spacing:0.2px">23</div>
<div class="t n" style="left:397.8px;width:120px;top:882.0px;letter-spacing:0.3px"><i>1</i>,9<i>1</i>4,238</div>
<div class="t n" style="left:508.3px;width:120px;top:882.0px;letter-spacing:0.3px">22,646,803</div>
<div class="t n" style="left:640.88px;width:60px;top:882.0px;letter-spacing:0.2px">8.</div>
<div class="t" style="left:700.88px;top:882.0px;letter-spacing:0.2px">45</div>
<div class="h" style="top:928px;background:#96999c"></div>
<div class="t" style="left:10.2px;top:907.0px">Oklahoma</div>
<div class="t n" style="left:67.8px;width:120px;top:907.0px;letter-spacing:0.3px"><i>1</i>4,<i>1</i>96</div>
<div class="t n" style="left:179.8px;width:120px;top:907.0px;letter-spacing:0.3px"><i>1</i>42,604</div>
<div class="t n" style="left:321.58px;width:60px;top:907.0px;letter-spacing:0.2px">9.</div>
<div class="t" style="left:381.58px;top:907.0px;letter-spacing:0.2px">95</div>
<div class="t n" style="left:397.8px;width:120px;top:907.0px;letter-spacing:0.3px">945,6<i>1</i>3</div>
<div class="t n" style="left:508.3px;width:120px;top:907.0px;letter-spacing:0.3px">9,2<i>1</i><i>1</i>,6<i>1</i>7</div>
<div class="t n" style="left:640.88px;width:60px;top:907.0px;letter-spacing:0.2px"><i>1</i>0.</div>
<div class="t" style="left:700.88px;top:907.0px;letter-spacing:0.2px">27</div>
<div style="left:4px;top:929px;width:749px;height:25px;background:#eef6f9"></div>
<div class="h" style="top:954px;background:#96999c"></div>
<div class="t" style="left:10.2px;top:933.0px">Oregon</div>
<div class="t n" style="left:67.8px;width:120px;top:933.0px;letter-spacing:0.3px">43,752</div>
<div class="t n" style="left:179.8px;width:120px;top:933.0px;letter-spacing:0.3px">200,477</div>
<div class="t n" style="left:321.58px;width:60px;top:933.0px;letter-spacing:0.2px">2<i>1</i>.</div>
<div class="t" style="left:381.58px;top:933.0px;letter-spacing:0.2px">82</div>
<div class="t n" style="left:397.8px;width:120px;top:933.0px;letter-spacing:0.3px">3,522,835</div>
<div class="t n" style="left:508.3px;width:120px;top:933.0px;letter-spacing:0.3px"><i>1</i>8,<i>1</i>79,<i>1</i>03</div>
<div class="t n" style="left:640.88px;width:60px;top:933.0px;letter-spacing:0.2px"><i>1</i>9.</div>
<div class="t" style="left:700.88px;top:933.0px;letter-spacing:0.2px">38</div>
<div class="h" style="top:979px;background:#96999c"></div>
<div class="t" style="left:10.2px;top:958.0px">Pennsylvania</div>
<div class="t n" style="left:67.8px;width:120px;top:958.0px;letter-spacing:0.3px"><i>1</i>5,349</div>
<div class="t n" style="left:179.8px;width:120px;top:958.0px;letter-spacing:0.3px"><i>1</i>62,937</div>
<div class="t n" style="left:321.58px;width:60px;top:958.0px;letter-spacing:0.2px">9.</div>
<div class="t" style="left:381.58px;top:958.0px;letter-spacing:0.2px">42</div>
<div class="t n" style="left:397.8px;width:120px;top:958.0px;letter-spacing:0.3px"><i>1</i>,334,8<i>1</i><i>1</i></div>
<div class="t n" style="left:508.3px;width:120px;top:958.0px;letter-spacing:0.3px"><i>1</i>3,093,6<i>1</i>8</div>
<div class="t n" style="left:640.88px;width:60px;top:958.0px;letter-spacing:0.2px"><i>1</i>0.</div>
<div class="t" style="left:700.88px;top:958.0px;letter-spacing:0.2px"><i>1</i>9</div>
<div style="left:4px;top:980px;width:749px;height:24px;background:#eef6f9"></div>
<div class="h" style="top:1004px;background:#96999c"></div>
<div class="t" style="left:10.2px;top:983.0px">Rhode Island</div>
<div class="t n" style="left:67.8px;width:120px;top:983.0px;letter-spacing:0.3px"><i>1</i>3,830</div>
<div class="t n" style="left:179.8px;width:120px;top:983.0px;letter-spacing:0.3px">94,05<i>1</i></div>
<div class="t n" style="left:321.58px;width:60px;top:983.0px;letter-spacing:0.2px"><i>1</i>4.</div>
<div class="t" style="left:381.58px;top:983.0px;letter-spacing:0.2px">70</div>
<div class="t n" style="left:397.8px;width:120px;top:983.0px;letter-spacing:0.3px">877,47<i>1</i></div>
<div class="t n" style="left:508.3px;width:120px;top:983.0px;letter-spacing:0.3px">5,789,509</div>
<div class="t n" style="left:640.88px;width:60px;top:983.0px;letter-spacing:0.2px"><i>1</i>5.</div>
<div class="t" style="left:700.88px;top:983.0px;letter-spacing:0.2px"><i>1</i>6</div>
<div class="h" style="top:1030px;background:#96999c"></div>
<div class="t" style="left:10.2px;top:1009.0px">South Carolina</div>
<div class="t n" style="left:67.8px;width:120px;top:1009.0px;letter-spacing:0.3px"><i>1</i>0,082</div>
<div class="t n" style="left:179.8px;width:120px;top:1009.0px;letter-spacing:0.3px">78,727</div>
<div class="t n" style="left:321.58px;width:60px;top:1009.0px;letter-spacing:0.2px"><i>1</i>2.</div>
<div class="t" style="left:381.58px;top:1009.0px;letter-spacing:0.2px">8<i>1</i></div>
<div class="t n" style="left:397.8px;width:120px;top:1009.0px;letter-spacing:0.3px">462,394</div>
<div class="t n" style="left:508.3px;width:120px;top:1009.0px;letter-spacing:0.3px">4,765,<i>1</i>26</div>
<div class="t n" style="left:640.88px;width:60px;top:1009.0px;letter-spacing:0.2px">9.</div>
<div class="t" style="left:700.88px;top:1009.0px;letter-spacing:0.2px">70</div>
<div style="left:4px;top:1031px;width:749px;height:24px;background:#eef6f9"></div>
<div class="h" style="top:1055px;background:#96999c"></div>
<div class="t" style="left:10.2px;top:1034.0px">South Dakota</div>
<div class="t n" style="left:67.8px;width:120px;top:1034.0px;letter-spacing:0.3px">3,980</div>
<div class="t n" style="left:179.8px;width:120px;top:1034.0px;letter-spacing:0.3px">43,52<i>1</i></div>
<div class="t n" style="left:321.58px;width:60px;top:1034.0px;letter-spacing:0.2px">9.</div>
<div class="t" style="left:381.58px;top:1034.0px;letter-spacing:0.2px"><i>1</i>5</div>
<div class="t n" style="left:397.8px;width:120px;top:1034.0px;letter-spacing:0.3px">350,443</div>
<div class="t n" style="left:508.3px;width:120px;top:1034.0px;letter-spacing:0.3px">3,380,<i>1</i>73</div>
<div class="t n" style="left:640.88px;width:60px;top:1034.0px;letter-spacing:0.2px"><i>1</i>0.</div>
<div class="t" style="left:700.88px;top:1034.0px;letter-spacing:0.2px">37</div>
<div class="h" style="top:1081px;background:#96999c"></div>
<div class="t" style="left:10.2px;top:1060.0px">Tennessee</div>
<div class="t n" style="left:67.8px;width:120px;top:1060.0px;letter-spacing:0.3px">22,247</div>
<div class="t n" style="left:179.8px;width:120px;top:1060.0px;letter-spacing:0.3px"><i>1</i><i>1</i>9,272</div>
<div class="t n" style="left:321.58px;width:60px;top:1060.0px;letter-spacing:0.2px"><i>1</i>8.</div>
<div class="t" style="left:381.58px;top:1060.0px;letter-spacing:0.2px">65</div>
<div class="t n" style="left:397.8px;width:120px;top:1060.0px;letter-spacing:0.3px"><i>1</i>,508,555</div>
<div class="t n" style="left:508.3px;width:120px;top:1060.0px;letter-spacing:0.3px">8,276,640</div>
<div class="t n" style="left:640.88px;width:60px;top:1060.0px;letter-spacing:0.2px"><i>1</i>8.</div>
<div class="t" style="left:700.88px;top:1060.0px;letter-spacing:0.2px">23</div>
<div style="left:4px;top:1082px;width:749px;height:24px;background:#eef6f9"></div>
<div class="h" style="top:1106px;background:#96999c"></div>
<div class="t" style="left:10.2px;top:1085.0px">Texas</div>
<div class="t n" style="left:67.8px;width:120px;top:1085.0px;letter-spacing:0.3px">36,365</div>
<div class="t n" style="left:179.8px;width:120px;top:1085.0px;letter-spacing:0.3px">263,369</div>
<div class="t n" style="left:321.58px;width:60px;top:1085.0px;letter-spacing:0.2px"><i>1</i>3.</div>
<div class="t" style="left:381.58px;top:1085.0px;letter-spacing:0.2px">8<i>1</i></div>
<div class="t n" style="left:397.8px;width:120px;top:1085.0px;letter-spacing:0.3px">2,400,793</div>
<div class="t n" style="left:508.3px;width:120px;top:1085.0px;letter-spacing:0.3px"><i>1</i>7,<i>1</i><i>1</i>7,088</div>
<div class="t n" style="left:640.88px;width:60px;top:1085.0px;letter-spacing:0.2px"><i>1</i>4.</div>
<div class="t" style="left:700.88px;top:1085.0px;letter-spacing:0.2px">03</div>
<div class="h" style="top:1131px;background:#96999c"></div>
<div class="t" style="left:10.2px;top:1110.0px">Utah</div>
<div class="t n" style="left:67.8px;width:120px;top:1110.0px;letter-spacing:0.3px">8,904</div>
<div class="t n" style="left:179.8px;width:120px;top:1110.0px;letter-spacing:0.3px">9<i>1</i>,5<i>1</i>7</div>
<div class="t n" style="left:321.58px;width:60px;top:1110.0px;letter-spacing:0.2px">9.</div>
<div class="t" style="left:381.58px;top:1110.0px;letter-spacing:0.2px">73</div>
<div class="t n" style="left:397.8px;width:120px;top:1110.0px;letter-spacing:0.3px">464,022</div>
<div class="t n" style="left:508.3px;width:120px;top:1110.0px;letter-spacing:0.3px">5,672,997</div>
<div class="t n" style="left:640.88px;width:60px;top:1110.0px;letter-spacing:0.2px">8.</div>
<div class="t" style="left:700.88px;top:1110.0px;letter-spacing:0.2px"><i>1</i>8</div>
<div style="left:4px;top:1132px;width:749px;height:25px;background:#eef6f9"></div>
<div class="h" style="top:1157px;background:#96999c"></div>
<div class="t" style="left:10.2px;top:1136.0px">Virginia</div>
<div class="t n" style="left:67.8px;width:120px;top:1136.0px;letter-spacing:0.3px">22,433</div>
<div class="t n" style="left:179.8px;width:120px;top:1136.0px;letter-spacing:0.3px"><i>1</i>40,02<i>1</i></div>
<div class="t n" style="left:321.58px;width:60px;top:1136.0px;letter-spacing:0.2px"><i>1</i>6.</div>
<div class="t" style="left:381.58px;top:1136.0px;letter-spacing:0.2px">02</div>
<div class="t n" style="left:397.8px;width:120px;top:1136.0px;letter-spacing:0.3px"><i>1</i>,237,645</div>
<div class="t n" style="left:508.3px;width:120px;top:1136.0px;letter-spacing:0.3px">8,688,47<i>1</i></div>
<div class="t n" style="left:640.88px;width:60px;top:1136.0px;letter-spacing:0.2px"><i>1</i>4.</div>
<div class="t" style="left:700.88px;top:1136.0px;letter-spacing:0.2px">24</div>
<div class="h" style="top:1182px;background:#96999c"></div>
<div class="t" style="left:10.2px;top:1161.0px">Washington</div>
<div class="t n" style="left:67.8px;width:120px;top:1161.0px;letter-spacing:0.3px">22,324</div>
<div class="t n" style="left:179.8px;width:120px;top:1161.0px;letter-spacing:0.3px"><i>1</i>97,466</div>
<div class="t n" style="left:321.58px;width:60px;top:1161.0px;letter-spacing:0.2px"><i>1</i><i>1</i>.</div>
<div class="t" style="left:381.58px;top:1161.0px;letter-spacing:0.2px">3<i>1</i></div>
<div class="t n" style="left:397.8px;width:120px;top:1161.0px;letter-spacing:0.3px">2,243,328</div>
<div class="t n" style="left:508.3px;width:120px;top:1161.0px;letter-spacing:0.3px"><i>1</i>7,507,<i>1</i>92</div>
<div class="t n" style="left:640.88px;width:60px;top:1161.0px;letter-spacing:0.2px"><i>1</i>2.</div>
<div class="t" style="left:700.88px;top:1161.0px;letter-spacing:0.2px">8<i>1</i></div>
<div style="left:4px;top:1183px;width:749px;height:24px;background:#eef6f9"></div>
<div class="h" style="top:1207px;background:#96999c"></div>
<div class="t" style="left:10.2px;top:1186.0px">West Virginia</div>
<div class="t n" style="left:67.8px;width:120px;top:1186.0px;letter-spacing:0.3px"><i>1</i>3,262</div>
<div class="t n" style="left:179.8px;width:120px;top:1186.0px;letter-spacing:0.3px"><i>1</i>20,2<i>1</i>0</div>
<div class="t n" style="left:321.58px;width:60px;top:1186.0px;letter-spacing:0.2px"><i>1</i><i>1</i>.</div>
<div class="t" style="left:381.58px;top:1186.0px;letter-spacing:0.2px">03</div>
<div class="t n" style="left:397.8px;width:120px;top:1186.0px;letter-spacing:0.3px"><i>1</i>,0<i>1</i>7,998</div>
<div class="t n" style="left:508.3px;width:120px;top:1186.0px;letter-spacing:0.3px">8,407,880</div>
<div class="t n" style="left:640.88px;width:60px;top:1186.0px;letter-spacing:0.2px"><i>1</i>2.</div>
<div class="t" style="left:700.88px;top:1186.0px;letter-spacing:0.2px"><i>1</i><i>1</i></div>
<div class="h" style="top:1233px;background:#96999c"></div>
<div class="t" style="left:10.2px;top:1212.0px">Wisconsin</div>
<div class="t n" style="left:67.8px;width:120px;top:1212.0px;letter-spacing:0.3px">9,574</div>
<div class="t n" style="left:179.8px;width:120px;top:1212.0px;letter-spacing:0.3px"><i>1</i>6<i>1</i>,549</div>
<div class="t n" style="left:321.58px;width:60px;top:1212.0px;letter-spacing:0.2px">5.</div>
<div class="t" style="left:381.58px;top:1212.0px;letter-spacing:0.2px">93</div>
<div class="t n" style="left:397.8px;width:120px;top:1212.0px;letter-spacing:0.3px">708,526</div>
<div class="t n" style="left:508.3px;width:120px;top:1212.0px;letter-spacing:0.3px"><i>1</i>2,250,243</div>
<div class="t n" style="left:640.88px;width:60px;top:1212.0px;letter-spacing:0.2px">5.</div>
<div class="t" style="left:700.88px;top:1212.0px;letter-spacing:0.2px">78</div>
<div style="left:4px;top:1234px;width:749px;height:23px;background:#eef6f9"></div>
<div class="t" style="left:10.2px;top:1236.0px">Wyoming</div>
<div class="t n" style="left:67.8px;width:120px;top:1236.0px;letter-spacing:0.3px"><i>1</i>0,567</div>
<div class="t n" style="left:179.8px;width:120px;top:1236.0px;letter-spacing:0.3px">7<i>1</i>,294</div>
<div class="t n" style="left:321.58px;width:60px;top:1236.0px;letter-spacing:0.2px"><i>1</i>4.</div>
<div class="t" style="left:381.58px;top:1236.0px;letter-spacing:0.2px">82</div>
<div class="t n" style="left:397.8px;width:120px;top:1236.0px;letter-spacing:0.3px">578,645</div>
<div class="t n" style="left:508.3px;width:120px;top:1236.0px;letter-spacing:0.3px">3,84<i>1</i>,<i>1</i>97</div>
<div class="t n" style="left:640.88px;width:60px;top:1236.0px;letter-spacing:0.2px"><i>1</i>5.</div>
<div class="t" style="left:700.88px;top:1236.0px;letter-spacing:0.2px">06</div>
<div class="v" style="left:3px;top:108px;height:1149px;background:#939699"></div>
<div class="v" style="left:112px;top:108px;height:1149px;background:#96999c"></div>
<div class="v" style="left:219px;top:108px;height:1149px;background:#96999c"></div>
<div class="v" style="left:646px;top:108px;height:1149px;background:#96999c"></div>
<div class="v" style="left:753px;top:108px;height:1149px;background:#939699"></div>
<div class="v" style="left:325px;top:108px;width:2px;height:1149px;background:#b8bbbd"></div>
<div class="v" style="left:432px;top:108px;width:2px;height:1149px;background:#b8bbbd"></div>
<div class="v" style="left:539px;top:108px;width:2px;height:1149px;background:#b8bbbd"></div>
<div style="left:3px;top:1257px;width:751px;height:3px;background:#089fb0"></div>
<div style="left:3px;top:1257px;width:751px;height:1px;background:#178e9b"></div>
<div style="left:3px;top:1264px;font-size:11.4px;line-height:14px;color:#717377;white-space:nowrap;transform:scaleX(1.0);transform-origin:left">Source: State Health RegData 1.0 (dataset).</div>
</body></html>
